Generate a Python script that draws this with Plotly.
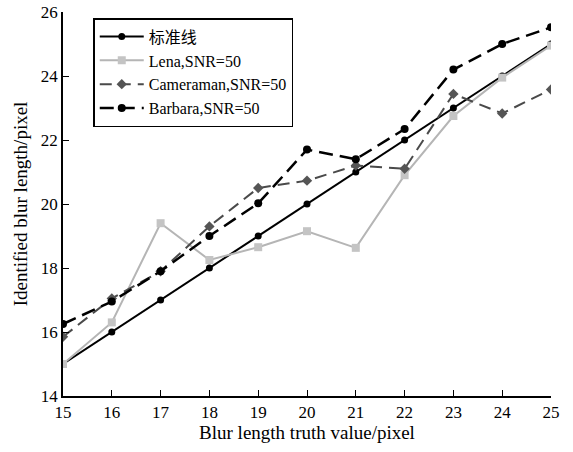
import plotly.graph_objects as go

x_vals = [15, 16, 17, 18, 19, 20, 21, 22, 23, 24, 25]
standard = [15, 16, 17, 18, 19, 20, 21, 22, 23, 24, 25]
lena = [15.0, 16.3, 19.4, 18.25, 18.65, 19.15, 18.63, 20.9, 22.75, 23.95, 24.95]
cameraman = [15.85, 17.05, 17.9, 19.3, 20.5, 20.73, 21.2, 21.1, 23.44, 22.83, 23.58]
barbara = [16.25, 16.95, 17.9, 19.0, 20.02, 21.7, 21.4, 22.34, 24.2, 25.0, 25.52]
names = ["标准线", "Lena,SNR=50", "Cameraman,SNR=50", "Barbara,SNR=50"]
x_ticks = list(range(15, 26))
y_ticks = [14, 16, 18, 20, 22, 24, 26]

serif = "Liberation Serif, Times New Roman, serif"

fig = go.Figure()
fig.add_trace(go.Scatter(x=x_vals, y=standard, name=names[0], mode="lines+markers",
                         line=dict(color="black", width=2),
                         marker=dict(symbol="circle", size=7, color="black")))
fig.add_trace(go.Scatter(x=x_vals, y=lena, name=names[1], mode="lines+markers",
                         line=dict(color="#b5b5b5", width=2),
                         marker=dict(symbol="square", size=8, color="#c4c4c4")))
fig.add_trace(go.Scatter(x=x_vals, y=cameraman, name=names[2], mode="lines+markers",
                         line=dict(color="#4a4a4a", width=2, dash="12px,7px"),
                         marker=dict(symbol="diamond", size=8, color="#555555")))
fig.add_trace(go.Scatter(x=x_vals, y=barbara, name=names[3], mode="lines+markers",
                         line=dict(color="black", width=2.5, dash="14px,7px"),
                         marker=dict(symbol="circle", size=8, color="black")))

fig.update_layout(
    width=573, height=452,
    margin=dict(l=63, r=22, t=12, b=56, autoexpand=False),
    paper_bgcolor="white", plot_bgcolor="white",
    font=dict(family=serif, size=18, color="black"),
    legend=dict(x=0.062, y=0.984, xanchor="left", yanchor="top",
                bgcolor="white", bordercolor="black", borderwidth=1.5,
                font=dict(family="Liberation Serif, Noto Sans CJK SC, serif", size=16),
                tracegroupgap=0, itemwidth=44),
    showlegend=True,
)
fig.update_xaxes(range=[15, 25], tickvals=x_ticks, ticks="inside", ticklen=6,
                 tickcolor="black", showline=True, linecolor="black", linewidth=1.5,
                 showgrid=False, zeroline=False, automargin=False,
                 title=dict(text="Blur length truth value/pixel", font=dict(size=19, family=serif), standoff=4),
                 tickfont=dict(size=17, family=serif))
fig.update_yaxes(range=[14, 26], tickvals=y_ticks, ticks="inside", ticklen=6,
                 tickcolor="black", showline=True, linecolor="black", linewidth=1.5,
                 showgrid=False, zeroline=False, automargin=False,
                 title=dict(text="Identified blur length/pixel", font=dict(size=19, family=serif), standoff=8),
                 tickfont=dict(size=17, family=serif))

fig.write_html("out.html", config={"displayModeBar": False},
               post_script="document.body.style.margin='0';")
